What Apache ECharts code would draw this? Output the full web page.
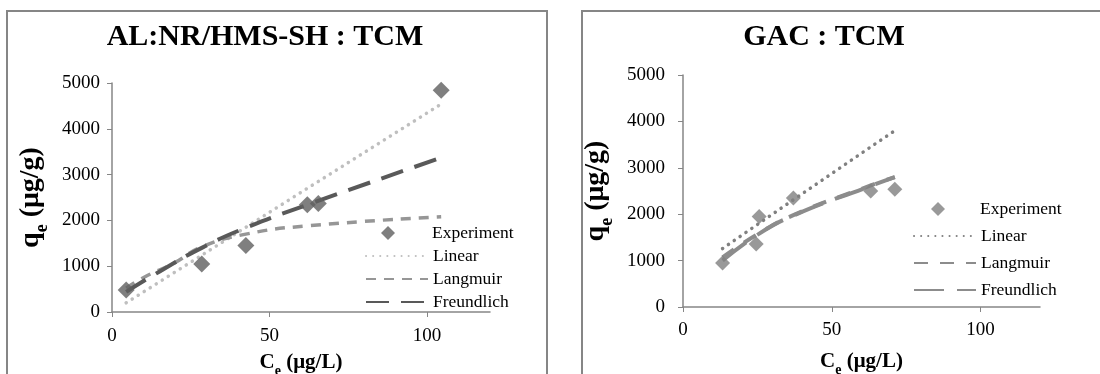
<!DOCTYPE html>
<html>
<head>
<meta charset="utf-8">
<script src="https://cdn.jsdelivr.net/npm/echarts@6/dist/echarts.min.js"></script>
<style>
  html, body { margin: 0; padding: 0; background: #fff; }
  #wrap { width: 1100px; height: 374px; display: flex; }
  .panel { width: 550px; height: 374px; }
</style>
</head>
<body>
<div id="wrap">
  <div id="leftChart" class="panel"></div>
  <div id="rightChart" class="panel"></div>
</div>
<script>
// AL:NR/HMS-SH : TCM
const expLeft = [[4.5, 480], [28.5, 1050], [42.5, 1450], [62, 2340], [65.5, 2370], [104.5, 4840]];
const linearLeft = [[4.5, 200], [28.5, 1240], [42.5, 1850], [62, 2700], [65.5, 2850], [104.5, 4540]];
const langmuirLeft = [[4.5, 520], [10.5, 770], [19.5, 1060], [28.5, 1420], [42.5, 1700], [62, 1880], [104.5, 2080]];
const freundlichLeft = [[4.5, 440], [15, 880], [28.5, 1400], [42.5, 1840], [62, 2340], [104.5, 3370]];

// GAC : TCM
const expRight = [[13.3, 950], [24.6, 1360], [25.6, 1950], [37.1, 2350], [63.1, 2500], [71.2, 2540]];
const linearRight = [[13.3, 1260], [24.6, 1760], [37.1, 2310], [63.1, 3450], [71.2, 3800]];
const langmuirRight = [[13.3, 1070], [24.6, 1550], [37.1, 1980], [63.1, 2620], [71.2, 2800]];
const freundlichRight = [[13.3, 1000], [24.6, 1540], [37.1, 1970], [63.1, 2610], [71.2, 2800]];

const xTicks = [0, 50, 100];
const fitNames = ['Linear', 'Langmuir', 'Freundlich'];
const font = 'Liberation Serif, Times New Roman, serif';

const buildOption = (cfg) => {
  const legendText = { fontFamily: font, fontSize: 17.5, color: '#000' };
  return {
    animation: false,
    title: {
      text: cfg.title,
      left: cfg.titleX,
      top: 17,
      textAlign: 'center',
      textStyle: { fontFamily: font, fontSize: 30, fontWeight: 'bold', color: '#000' }
    },
    graphic: [
      {
        type: 'rect',
        shape: { x: cfg.boxX, y: 11, width: cfg.boxW, height: 420 },
        style: { fill: 'none', stroke: '#868686', lineWidth: 2 }
      }
    ],
    legend: [
      {
        // diamond legend kept square, text pushed right to line up with the others
        orient: 'vertical',
        left: cfg.legendX + cfg.expOffset,
        top: cfg.legendY,
        itemWidth: 14,
        itemHeight: 14,
        data: [{ name: 'Experiment', icon: 'diamond' }],
        textStyle: Object.assign({ padding: [0, 0, 0, cfg.expPad] }, legendText)
      },
      {
        orient: 'vertical',
        left: cfg.legendX,
        top: cfg.legendY + cfg.legendStep,
        itemWidth: 62,
        itemHeight: 14,
        itemGap: cfg.legendGap,
        data: fitNames.map((n) => ({ name: n, itemStyle: { opacity: 0 } })),
        textStyle: legendText
      }
    ],
    grid: Object.assign({ outerBoundsMode: 'none', containLabel: false }, cfg.grid),
    xAxis: {
      type: 'value',
      min: 0,
      max: 120,
      interval: 50,
      name: '{a|C}{b|e}{a| (μg/L)}',
      nameLocation: 'middle',
      nameGap: cfg.xNameGap,
      nameTextStyle: {
        rich: {
          a: { fontFamily: font, fontSize: 21, fontWeight: 'bold', color: '#000' },
          b: { fontFamily: font, fontSize: 14, fontWeight: 'bold', color: '#000', verticalAlign: 'bottom', padding: [0, 0, -5, 0] }
        }
      },
      axisLine: { lineStyle: { color: '#868686', width: 1.5 } },
      axisTick: { show: true, inside: false, length: 5, customValues: xTicks, lineStyle: { color: '#868686' } },
      axisLabel: { margin: cfg.xLabelMargin, customValues: xTicks, fontFamily: font, fontSize: 19, color: '#000' },
      splitLine: { show: false }
    },
    yAxis: {
      type: 'value',
      min: 0,
      max: 5000,
      interval: 1000,
      name: '{a|q}{b|e}{a| (μg/g)}',
      nameLocation: 'middle',
      nameRotate: 90,
      nameGap: cfg.yNameGap,
      nameTextStyle: {
        rich: {
          a: { fontFamily: font, fontSize: 28, fontWeight: 'bold', color: '#000' },
          b: { fontFamily: font, fontSize: 18, fontWeight: 'bold', color: '#000', verticalAlign: 'bottom', padding: [0, 0, -6, 0] }
        }
      },
      axisLine: { show: true, lineStyle: { color: '#868686', width: 1.5 } },
      axisTick: { show: true, inside: false, length: 5, lineStyle: { color: '#868686' } },
      axisLabel: {
        margin: cfg.yLabelMargin,
        fontFamily: font,
        fontSize: 19,
        color: '#000',
        formatter: (v) => String(v)
      },
      splitLine: { show: false }
    },
    series: [
      {
        name: 'Experiment',
        type: 'scatter',
        symbol: 'diamond',
        symbolSize: cfg.markSize,
        itemStyle: { color: cfg.colors[0] },
        data: cfg.exp,
        z: 5
      },
      {
        name: 'Linear',
        type: 'line',
        showSymbol: false,
        symbol: 'none',
        itemStyle: { color: cfg.colors[1] },
        lineStyle: { color: cfg.colors[1], width: cfg.widths[1], type: [0.1, 7], cap: 'round' },
        data: cfg.linear
      },
      {
        name: 'Langmuir',
        type: 'line',
        smooth: true,
        showSymbol: false,
        symbol: 'none',
        itemStyle: { color: cfg.colors[2] },
        lineStyle: { color: cfg.colors[2], width: cfg.widths[2], type: cfg.dashLang },
        data: cfg.langmuir
      },
      {
        name: 'Freundlich',
        type: 'line',
        smooth: true,
        showSymbol: false,
        symbol: 'none',
        itemStyle: { color: cfg.colors[3] },
        lineStyle: { color: cfg.colors[3], width: cfg.widths[3], type: cfg.dashFreu },
        data: cfg.freundlich
      }
    ]
  };
};

const leftChart = echarts.init(document.getElementById('leftChart'));
leftChart.setOption(buildOption({
  title: 'AL:NR/HMS-SH : TCM',
  titleX: 260,
  boxX: 7,
  boxW: 540,
  legendX: 360,
  legendY: 219,
  legendStep: 23,
  legendGap: 5,
  expOffset: 16,
  expPad: 32,
  grid: { left: 112, right: 60, top: 83, bottom: 62 },
  xNameGap: 40,
  yNameGap: 62,
  xLabelMargin: 15,
  yLabelMargin: 12,
  markSize: 17,
  colors: ['#5f5f5f', '#bfbfbf', '#969696', '#595959'],
  widths: [0, 3.5, 3.5, 4],
  dashLang: [10, 8],
  dashFreu: [23, 12],
  exp: expLeft,
  linear: linearLeft,
  langmuir: langmuirLeft,
  freundlich: freundlichLeft
}));

const rightChart = echarts.init(document.getElementById('rightChart'));
rightChart.setOption(buildOption({
  title: 'GAC : TCM',
  titleX: 269,
  boxX: 32,
  boxW: 600,
  legendX: 358,
  legendY: 195,
  legendStep: 27,
  legendGap: 9,
  expOffset: 18,
  expPad: 30,
  grid: { left: 133, right: 60, top: 75, bottom: 67 },
  xNameGap: 44,
  yNameGap: 60,
  xLabelMargin: 14,
  yLabelMargin: 18,
  markSize: 15,
  colors: ['#808080', '#808080', '#8c8c8c', '#8c8c8c'],
  widths: [0, 3.5, 4, 4],
  dashLang: [14, 12],
  dashFreu: [30, 13],
  exp: expRight,
  linear: linearRight,
  langmuir: langmuirRight,
  freundlich: freundlichRight
}));
</script>
</body>
</html>
